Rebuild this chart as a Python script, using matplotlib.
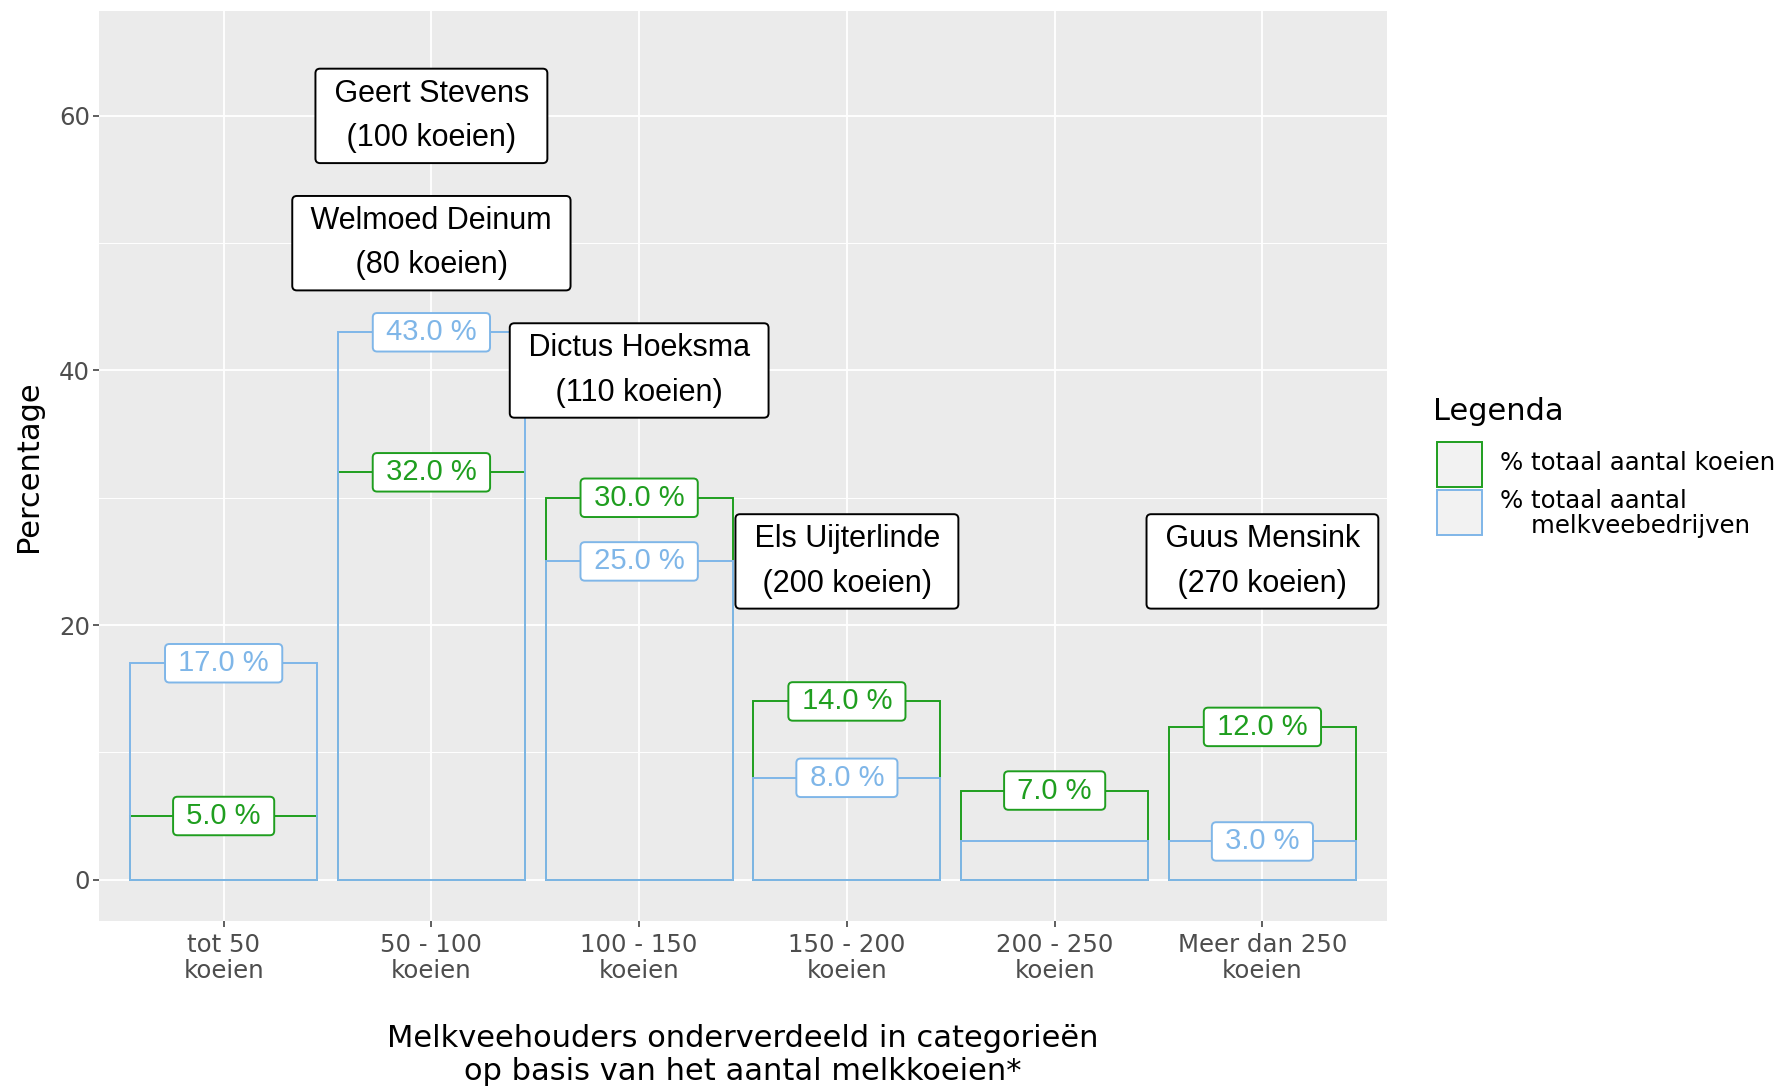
import matplotlib.pyplot as plt
from matplotlib.patches import Rectangle

categorieen = ["tot 50\nkoeien", "50 - 100\nkoeien", "100 - 150\nkoeien",
               "150 - 200\nkoeien", "200 - 250\nkoeien", "Meer dan 250\nkoeien"]
pct_koeien = [5, 32, 30, 14, 7, 12]
pct_bedrijven = [17, 43, 25, 8, 3, 3]
toon_label_bedrijven = [True, True, True, True, False, True]

namen = ["Geert Stevens\n(100 koeien)", "Welmoed Deinum\n(80 koeien)",
         "Dictus Hoeksma\n(110 koeien)", "Els Uijterlinde\n(200 koeien)",
         "Guus Mensink\n(270 koeien)"]
namen_cat = [1, 1, 2, 3, 5]
namen_y = [60, 50, 40, 25, 25]

groen = "#1f9e1f"
blauw = "#7fb6e8"
grijs_tekst = "#4d4d4d"

fig = plt.figure(figsize=(17.87, 10.87), dpi=100)
ax = fig.add_axes([0.0554, 0.1527, 0.7208, 0.8373])
ax.set_facecolor("#ebebeb")
for s in ax.spines.values():
    s.set_visible(False)

x = list(range(len(categorieen)))

# staven: alleen omtrek, groen eerst en blauw erover
ax.bar(x, pct_koeien, width=0.9, fill=False, edgecolor=groen, linewidth=1.4, zorder=2)
ax.bar(x, pct_bedrijven, width=0.9, fill=False, edgecolor=blauw, linewidth=1.4, zorder=3)


def pct_label(xi, yi, kleur):
    ax.text(xi, yi, " %.1f %% " % yi, ha="center", va="center", fontsize=21,
            family="Liberation Sans", color=kleur, zorder=4,
            bbox=dict(boxstyle="round,pad=0.18,rounding_size=0.15",
                      fc="white", ec=kleur, lw=1.4))


for i in x:
    pct_label(i, pct_koeien[i], groen)
for i in x:
    if toon_label_bedrijven[i]:
        pct_label(i, pct_bedrijven[i], blauw)

for naam, c, yy in zip(namen, namen_cat, namen_y):
    tekst = "\n".join(" " + r + " " for r in naam.split("\n"))
    ax.text(c, yy, tekst, ha="center", va="center", fontsize=22,
            family="Liberation Sans", color="black", linespacing=1.62, zorder=5,
            bbox=dict(boxstyle="round,pad=0.33,rounding_size=0.15",
                      fc="white", ec="black", lw=1.4))

ax.set_xlim(-0.6, len(categorieen) - 0.4)
ax.set_ylim(-3.25, 68.25)
ax.set_xticks(x)
ax.set_xticklabels(categorieen, linespacing=1.1)
ax.set_yticks([0, 20, 40, 60])
ax.set_yticks([10, 30, 50], minor=True)
ax.grid(which="major", color="white", linewidth=1.3)
ax.grid(which="minor", axis="y", color="white", linewidth=0.7)
ax.set_axisbelow(True)
ax.tick_params(which="major", length=4, width=1.1, color="#333333",
               labelsize=17.6, labelcolor=grijs_tekst, pad=2.5)
ax.tick_params(axis="x", pad=4.5)
ax.tick_params(which="minor", length=0)

ax.set_xlabel("Melkveehouders onderverdeeld in categorieën\nop basis van het aantal melkkoeien*",
              fontsize=22, linespacing=1.2)
ax.xaxis.set_label_coords(0.5, -0.113)
ax.set_ylabel("Percentage", fontsize=22, va="center")
ax.yaxis.set_label_coords(-0.0547, 0.5)

# legenda
W, H = 1787, 1087
fig.text(1433 / W, 1 - 411 / H, "Legenda", fontsize=22, ha="left", va="center")
for y0, kleur in [(442, groen), (490, blauw)]:
    fig.patches.append(Rectangle((1437 / W, 1 - (y0 + 45) / H), 45 / W, 45 / H,
                                 transform=fig.transFigure, fc="#f2f2f2",
                                 ec=kleur, lw=1.4))
fig.text(1500 / W, 1 - 463 / H, "% totaal aantal koeien", fontsize=17.6,
         ha="left", va="center")
fig.text(1500 / W, 1 - 513.5 / H, "% totaal aantal\n    melkveebedrijven",
         fontsize=17.6, ha="left", va="center", linespacing=1.04)

fig.savefig("out.png", dpi=100)
